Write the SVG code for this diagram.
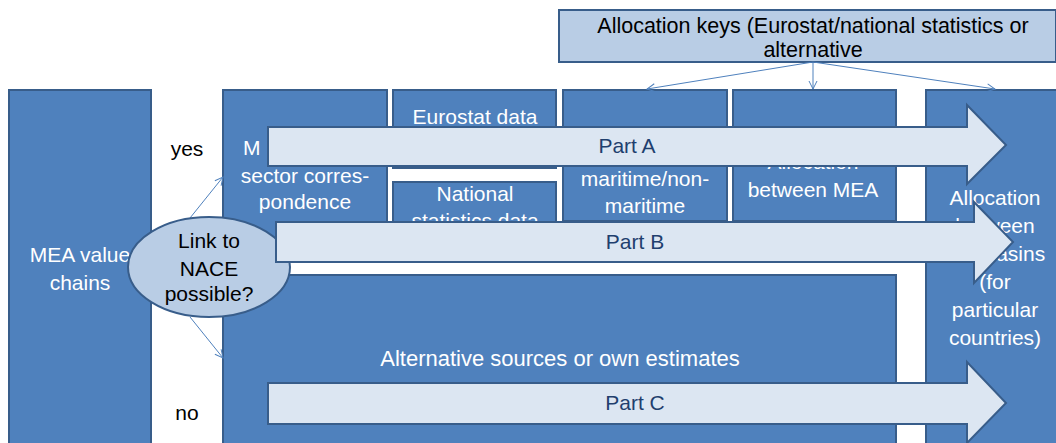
<svg xmlns="http://www.w3.org/2000/svg" width="1056" height="443" viewBox="0 0 1056 443">
<defs>
<style>
.box{fill:#4f81bd;stroke:#385d8a;stroke-width:2}
.lt{fill:#b9cde5;stroke:#385d8a;stroke-width:2}
.arr{fill:#dce6f2;stroke:#385d8a;stroke-width:2;stroke-linejoin:miter}
.con{fill:none;stroke:#4f81bd;stroke-width:1}
text{font-family:"Liberation Sans",Arial,sans-serif;font-size:21px;text-anchor:middle}
.w{fill:#ffffff}
.k{fill:#000000}
.p{fill:#1f3f6e}
</style>
<marker id="oa" markerWidth="10" markerHeight="10" refX="9" refY="5" orient="auto" markerUnits="userSpaceOnUse">
<path d="M1,1 L9,5 L1,9" fill="none" stroke="#4f81bd" stroke-width="1"/>
</marker>
</defs>
<rect width="1056" height="443" fill="#ffffff"/>

<g id="mea">
<rect class="box" x="9" y="90" width="142" height="360"/>
<text class="w" x="80" y="262">MEA value</text>
<text class="w" x="80" y="290">chains</text>
</g>

<g id="nace-correspondence">
<rect class="box" x="223" y="90" width="164" height="150"/>
<text class="w" x="243" y="155" style="text-anchor:start">M</text>
<text class="w" x="305" y="183">sector corres-</text>
<text class="w" x="305" y="209">pondence</text>
</g>

<g id="eurostat">
<rect class="box" x="393" y="90" width="163" height="78"/>
<text class="w" x="475" y="124">Eurostat data</text>
</g>

<g id="national">
<rect class="box" x="393" y="182" width="163" height="58"/>
<text class="w" x="475" y="201">National</text>
<text class="w" x="475" y="228">statistics data</text>
</g>

<g id="maritime">
<rect class="box" x="563" y="90" width="164" height="131"/>
<text class="w" x="645" y="186">maritime/non-</text>
<text class="w" x="645" y="213">maritime</text>
</g>

<g id="alloc-mea">
<rect class="box" x="733" y="90" width="163" height="131"/>
<text class="w" x="813" y="169">Allocation</text>
<text class="w" x="813" y="197">between MEA</text>
</g>

<g id="alloc-basins">
<rect class="box" x="926" y="90" width="140" height="360"/>
<text class="w" x="995" y="205">Allocation</text>
<text class="w" x="995" y="233">between</text>
<text class="w" x="995" y="261">sea basins</text>
<text class="w" x="995" y="289">(for</text>
<text class="w" x="995" y="317">particular</text>
<text class="w" x="995" y="345">countries)</text>
</g>

<g id="alternative">
<rect class="box" x="223" y="275" width="673" height="175"/>
<text class="w" x="560" y="366" style="font-size:22px">Alternative sources or own estimates</text>
</g>

<g id="keys">
<rect class="lt" x="559" y="10" width="497" height="52"/>
<text class="k" x="813" y="33" style="font-size:21.5px">Allocation keys (Eurostat/national statistics or</text>
<text class="k" x="813" y="57" style="font-size:21.5px">alternative</text>
</g>

<g id="connectors">
<line class="con" x1="190" y1="218" x2="223" y2="177" marker-end="url(#oa)"/>
<line class="con" x1="190" y1="317" x2="223" y2="358" marker-end="url(#oa)"/>
<line class="con" x1="813" y1="62" x2="647" y2="89" marker-end="url(#oa)"/>
<line class="con" x1="813" y1="62" x2="813" y2="89" marker-end="url(#oa)"/>
<line class="con" x1="813" y1="62" x2="995" y2="89" marker-end="url(#oa)"/>
</g>

<g id="decision">
<ellipse class="lt" cx="209" cy="267" rx="81" ry="50"/>
<text class="k" x="209" y="248">Link to</text>
<text class="k" x="209" y="276">NACE</text>
<text class="k" x="209" y="301">possible?</text>
</g>

<g id="labels">
<text class="k" x="187" y="156">yes</text>
<text class="k" x="187" y="420">no</text>
</g>

<g id="part-a">
<polygon class="arr" points="268,127 967,127 967,105 1006,145 967,184 967,166 268,166"/>
<text class="p" x="627" y="153">Part A</text>
</g>

<g id="part-b">
<polygon class="arr" points="276,222 974,222 974,202 1013,242 974,283 974,262 276,262"/>
<text class="p" x="635" y="249">Part B</text>
</g>

<g id="part-c">
<polygon class="arr" points="268,383 967,383 967,362 1006,403 967,443 967,424 268,424"/>
<text class="p" x="635" y="410">Part C</text>
</g>
</svg>
